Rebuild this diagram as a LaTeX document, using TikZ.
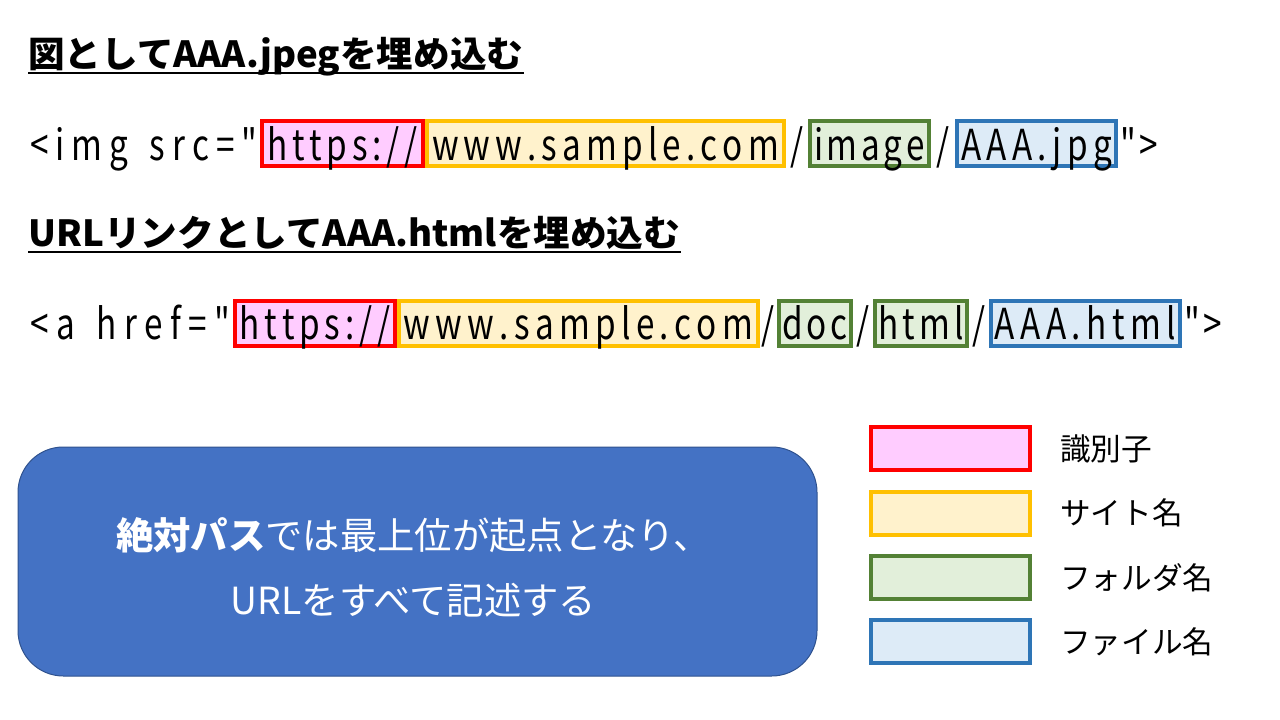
\documentclass[tikz,border=0pt]{standalone}
\usepackage{fontspec}
\usepackage{graphicx}
\setmainfont{Noto Sans CJK JP}
\setmonofont{Noto Sans CJK JP}[FakeStretch=0.78]
\usetikzlibrary{calc}
\definecolor{redB}{HTML}{FF0000}\definecolor{redF}{HTML}{FFCCFF}
\definecolor{yelB}{HTML}{FFC000}\definecolor{yelF}{HTML}{FFF2CC}
\definecolor{grnB}{HTML}{538135}\definecolor{grnF}{HTML}{E2EFDA}
\definecolor{bluB}{HTML}{2E75B6}\definecolor{bluF}{HTML}{DDEBF7}
\definecolor{boxF}{HTML}{4472C4}\definecolor{boxB}{HTML}{2F528F}
\makeatletter
\newcommand\spreadtxt[2]{\makebox[#1pt][s]{\let\spsep\relax\@tfor\spnx:=#2\do{\spsep\spnx\let\spsep\hfil}}}
\makeatother
\tikzset{
  code/.style={inner sep=0pt, text height=28pt, text depth=3.2pt, font=\ttfamily\fontsize{32}{36}\selectfont},
  seg/.style={code, draw, line width=3pt, minimum height=33.75pt},
  segred/.style={seg, draw=redB, fill=redF},
  segyel/.style={seg, draw=yelB, fill=yelF},
  seggrn/.style={seg, draw=grnB, fill=grnF},
  segblu/.style={seg, draw=bluB, fill=bluF},
  ttl/.style={inner sep=0pt, anchor=base west, font=\fontsize{27}{30}\selectfont\bfseries},
  uline/.style={line width=1.5pt},
  legbox/.style={draw, line width=3pt, minimum width=119.25pt, minimum height=32.25pt, inner sep=0pt},
  leglbl/.style={anchor=west, inner sep=0pt, font=\fontsize{23}{26}\selectfont},
  bigbox/.style={draw=boxB, line width=0.75pt, fill=boxF, rounded corners=34pt,
    minimum width=599.25pt, minimum height=171.75pt},
  bigtxt/.style={text=white, align=center, inner sep=0pt, font=\fontsize{28}{48.75}\selectfont}
}
\begin{document}
\begin{tikzpicture}[x=0.75pt, y=-0.75pt]
\path[use as bounding box, fill=white] (0,0) rectangle (1280,720);

% title 1
\node[ttl] (t1) at (28,68) {\resizebox{371.25pt}{\height}{図としてAAA.jpegを埋め込む}};
\draw[uline] ($(t1.base west)+(0,5)$) -- ($(t1.base east)+(0,5)$);

% line 1
\node[code, anchor=west] (l1a) at (30,143.5) {\spreadtxt{170.25}{<img{\ }src="}};
\node[segyel, minimum width=267.75pt] (l1y) at (605.5,143.5) {\spreadtxt{260}{www.sample.com}};
\node[segred, minimum width=120.75pt] (l1r) at (342.5,143.5) {\spreadtxt{113}{https://}};
\node[code] (l1s1) at (797,143.5) {/};
\node[seggrn, minimum width=89.25pt] (l1g) at (869.5,143.5) {\spreadtxt{83}{image}};
\node[code] (l1s2) at (943,143.5) {/};
\node[segblu, minimum width=119.25pt] (l1b) at (1036.5,143.5) {\spreadtxt{113}{AAA.jpg}};
\node[code, anchor=west] (l1e) at (1120,143.5) {\spreadtxt{28}{">}};

% title 2
\node[ttl] (t2) at (28,247) {\resizebox{489pt}{\height}{URLリンクとしてAAA.htmlを埋め込む}};
\draw[uline] ($(t2.base west)+(0,5)$) -- ($(t2.base east)+(0,5)$);

% line 2
\node[code, anchor=west] (l2a) at (30,323) {\spreadtxt{150}{<a{\ }href="}};
\node[segyel, minimum width=269.25pt] (l2y) at (578.5,323) {\spreadtxt{262}{www.sample.com}};
\node[segred, minimum width=120pt] (l2r) at (315,323) {\spreadtxt{113}{https://}};
\node[code] (l2s1) at (768,323) {/};
\node[seggrn, minimum width=54pt] (l2g1) at (815,323) {\spreadtxt{49}{doc}};
\node[code] (l2s2) at (863,323) {/};
\node[seggrn, minimum width=69pt] (l2g2) at (921,323) {\spreadtxt{64}{html}};
\node[code] (l2s3) at (979,323) {/};
\node[segblu, minimum width=141.75pt] (l2b) at (1085.5,323) {\spreadtxt{136}{AAA.html}};
\node[code, anchor=west] (l2e) at (1184,323) {\spreadtxt{28}{">}};

% big box
\node[bigbox] (abs) at (417.5,561.5) {};
\node[bigtxt] (absT) at ($(abs.center)+(-4,6)$) {\textbf{絶対パス}では最上位が起点となり、\\URLをすべて記述する};

% legend
\node[legbox, draw=redB, fill=redF] (k1) at (950.5,448.5) {};
\node[legbox, draw=yelB, fill=yelF] (k2) at (950.5,513) {};
\node[legbox, draw=grnB, fill=grnF] (k3) at (950.5,577.5) {};
\node[legbox, draw=bluB, fill=bluF] (k4) at (950.5,641.5) {};
\node[leglbl] (k1l) at (1060,448.5) {識別子};
\node[leglbl] (k2l) at (1060,513) {サイト名};
\node[leglbl] (k3l) at (1060,577.5) {フォルダ名};
\node[leglbl] (k4l) at (1060,641.5) {ファイル名};
\end{tikzpicture}
\end{document}
